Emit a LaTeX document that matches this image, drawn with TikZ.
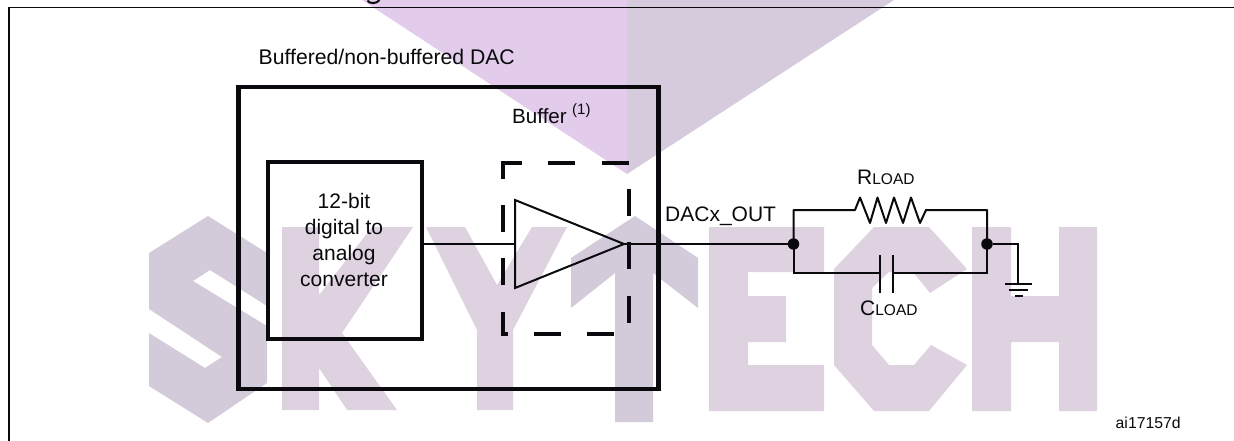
\documentclass[tikz,border=0pt]{standalone}
\usepackage{fontspec}
\setmainfont{Liberation Sans}
\definecolor{wmlilac}{HTML}{DFD2E0}
\definecolor{wmgrey}{HTML}{D3CBD9}
\definecolor{wmpurple}{HTML}{E3CCEB}
\definecolor{wmtop}{HTML}{D6CADD}
\definecolor{ink}{HTML}{0A0A0E}
\newcommand{\fs}[1]{\fontsize{#1}{#1}\selectfont}
\tikzset{
  lilac/.style={fill=wmlilac,draw=none},
  slate/.style={fill=wmgrey,draw=none},
  wire/.style={draw=ink,line width=2pt},
  mediumbox/.style={draw=ink,line width=4pt,inner sep=0pt,outer sep=0pt,fill=none},
  label/.style={inner sep=0pt,anchor=base west,text=ink},
  clabel/.style={inner sep=0pt,anchor=base,text=ink},
  dot/.style={circle,fill=ink,inner sep=0pt,outer sep=0pt,minimum size=11.5pt},
}
\begin{document}
\begin{tikzpicture}[x=1pt,y=-1pt]
\useasboundingbox (0,0) rectangle (1234,441);
\fill[white] (0,0) rectangle (1234,441);
% watermark
\fill[wmpurple] (362,0) -- (627,174) -- (627,0) -- cycle;
\fill[wmtop] (627,0) -- (627,174) -- (894,0) -- cycle;
\path[slate] (208,216) -- (267,253) -- (267,306) -- (210,270) -- (193,281) -- (267,326) -- (267,383) -- (208,423) -- (149,386) -- (149,333) -- (205,368) -- (222,357) -- (149,309) -- (149,253) -- cycle;
\path[lilac] (282,227) -- (319,227) -- (319,295) -- (372,227) -- (413,227) -- (342,333) -- (397,410) -- (347,410) -- (319,368) -- (319,410) -- (282,410) -- cycle;
\path[lilac] (426,227) -- (465,227) -- (497,285) -- (532,227) -- (567,227) -- (513,330) -- (513,410) -- (477,410) -- (477,330) -- cycle;
\path[slate] (635,216) -- (698,258) -- (698,308) -- (653,273) -- (653,422) -- (615,422) -- (615,273) -- (571,308) -- (571,258) -- cycle;
\path[lilac] (709,227) -- (824,227) -- (824,272) -- (748,272) -- (748,296) -- (786,296) -- (786,342) -- (748,342) -- (748,365) -- (824,365) -- (824,411) -- (709,411) -- cycle;
\path[lilac] (874,227) -- (929,227) -- (967,269) -- (930,293) -- (913,272) -- (889,272) -- (872,288) -- (872,345) -- (889,365) -- (914,365) -- (931,345) -- (967,365) -- (929,411) -- (874,411) -- (834,365) -- (834,269) -- cycle;
\path[lilac] (972,227) -- (1011,227) -- (1011,296) -- (1059,296) -- (1059,227) -- (1097,227) -- (1097,411) -- (1059,411) -- (1059,342) -- (1011,342) -- (1011,411) -- (972,411) -- cycle;
% frame
\draw[ink,line width=1.7pt] (9,441) -- (9,7.5) -- (1234,7.5);
\draw[ink,line width=2pt] (367.5,0.5) .. controls (369,4) and (377,4) .. (379.5,0);
% boxes
\node[mediumbox,line width=4.4pt,minimum width=420pt,minimum height=302pt,anchor=north west] (dac) at (238.5,87) {};
\node[mediumbox,minimum width=154pt,minimum height=177pt,anchor=north west] (conv) at (268,162) {};
\draw[ink,line width=3.8pt,dash pattern=on 27pt off 26.3pt] (503,171) -- (503,163) -- (629,163) -- (629,334) -- (503,334) -- cycle;
% amplifier
\coordinate (ampin) at (515,244);
\coordinate (ampout) at (624,244);
\draw[wire,line join=miter] (515,200) -- (ampout) -- (515,288) -- cycle;
% junctions
\node[dot] (j1) at (793.5,244) {};
\node[dot] (j2) at (987,244) {};
\draw[wire] (conv.east |- ampin) -- (ampin);
\draw[wire] (ampout) -- (j1);
% load
\coordinate (rl) at (855,210);
\coordinate (rr) at (926,210);
\coordinate (cl) at (880,273);
\coordinate (cr) at (893,273);
\draw[wire,line join=round] (j1.center) -- (793.5,210) -- (rl) -- (860,197.5) -- (870,223) -- (877.5,197.5) -- (886,223) -- (894,197.5) -- (903,223) -- (911,197.5) -- (920,223) -- (rr) -- (987,210) -- (j2.center);
\draw[wire] (j1.center) -- (793.5,273) -- (cl);
\draw[wire] (j2.center) -- (987,273) -- (cr);
\draw[ink,line width=2.4pt] (880,255) -- (880,293);
\draw[ink,line width=2.4pt] (893,255) -- (893,293);
% ground
\coordinate (gnd) at (1018,284);
\draw[wire] (j2) -- (1018,244) -- (gnd);
\draw[ink,line width=1.9pt] (1005,284) -- (1032,284);
\draw[ink,line width=1.9pt] (1009,290) -- (1028,290);
\draw[ink,line width=1.9pt] (1015,296) -- (1023,296);
% labels
\node[label] (t1) at (258.5,65) {\fs{21.2}Buffered/non-buffered DAC};
\node[label] (t2) at (512,124) {\fs{20.6}Buffer};
\node[label] (t3) at (572,115) {\fs{15}(1)};
\node[clabel] (t4) at (344,208) {\fs{21}12-bit};
\node[clabel] (t5) at (344,234) {\fs{21}digital to};
\node[clabel] (t6) at (344,260) {\fs{21}analog};
\node[clabel] (t7) at (344,286) {\fs{21}converter};
\node[label] (t8) at (665,221) {\fs{21}DACx\_OUT};
\node[label] (t9) at (857,184) {\fs{21}R\fs{15.5}LOAD};
\node[label] (t10) at (860,315) {\fs{21}C\fs{15.5}LOAD};
\node[label] (t11) at (1115.5,428) {\fs{15.8}ai17157d};
\end{tikzpicture}
\end{document}
